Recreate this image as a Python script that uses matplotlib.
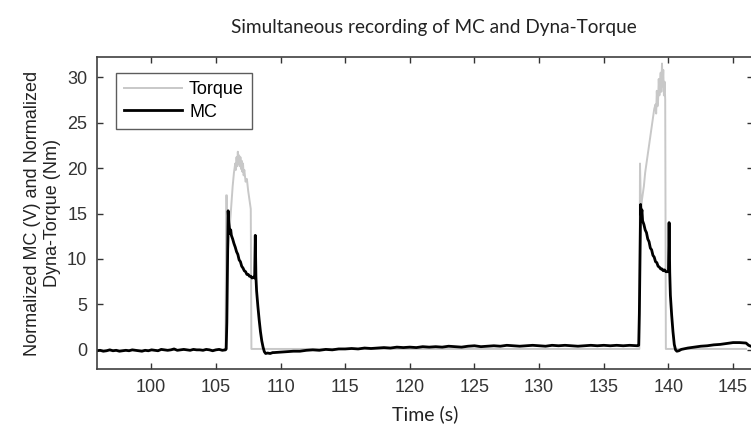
import numpy as np
import matplotlib
matplotlib.use("Agg")
import matplotlib.pyplot as plt

# MC signal (V, normalized), in pieces
mc_pre_t = np.linspace(95.8, 105.75, 41)
mc_pre_v = [-0.1, -0.05, -0.15, -0.1, 0.0, -0.1, -0.05, -0.15, -0.1, -0.05,
            -0.1, 0.0, -0.05, -0.1, -0.15, -0.05, -0.1, 0.0, -0.05, -0.1,
            0.05, 0.0, -0.05, 0.0, 0.1, -0.05, 0.0, 0.05, 0.0, -0.05,
            0.05, 0.0, 0.0, -0.05, 0.05, 0.0, -0.1, 0.0, 0.05, -0.05, 0.0]

mc_p1_t = [105.80, 105.85, 105.90, 105.95, 106.00, 106.05, 106.10, 106.15, 106.2, 106.3,
           106.4, 106.5, 106.6, 106.7, 106.8, 106.9, 107.0, 107.1, 107.2, 107.3,
           107.4, 107.5, 107.6, 107.7, 107.8, 107.9, 108.0, 108.05, 108.1, 108.15,
           108.25, 108.35, 108.45, 108.55, 108.65, 108.75, 108.85, 109.0, 109.2, 109.4]
mc_p1_v = [0.1, 3.0, 9.5, 15.3, 14.0, 13.4, 12.8, 13.2, 12.6, 12.2,
           11.7, 11.3, 10.8, 10.5, 9.9, 9.7, 9.2, 9.0, 8.7, 8.6,
           8.3, 8.3, 8.1, 8.1, 7.9, 8.0, 7.9, 12.6, 8.0, 6.5,
           4.8, 3.3, 2.0, 1.0, 0.3, -0.2, -0.4, -0.35, -0.4, -0.3]

mc_mid_t = np.linspace(109.5, 137.5, 57)
mc_mid_v = [-0.3, -0.25, -0.2, -0.15, -0.15, -0.05, 0.0, -0.05, 0.05, 0.0,
            0.1, 0.1, 0.15, 0.1, 0.2, 0.15, 0.2, 0.25, 0.2, 0.3,
            0.25, 0.3, 0.25, 0.35, 0.3, 0.35, 0.3, 0.4, 0.35, 0.3,
            0.4, 0.45, 0.35, 0.4, 0.45, 0.4, 0.5, 0.45, 0.4, 0.45,
            0.5, 0.45, 0.4, 0.5, 0.45, 0.5, 0.45, 0.4, 0.45, 0.5,
            0.45, 0.5, 0.45, 0.5, 0.45, 0.5, 0.45]

mc_p2_t = [137.6, 137.7, 137.75, 137.8, 137.85, 137.9, 137.95, 138.0, 138.1, 138.2,
           138.3, 138.4, 138.5, 138.6, 138.7, 138.8, 138.9, 139.0, 139.1, 139.2,
           139.3, 139.4, 139.5, 139.6, 139.7, 139.8, 139.9, 140.0, 140.05, 140.1,
           140.15, 140.25, 140.35, 140.45, 140.55, 140.65, 140.8]
mc_p2_v = [0.45, 0.5, 4.0, 10.0, 16.0, 14.8, 15.4, 14.2, 13.8, 13.2,
           12.9, 12.2, 11.9, 11.2, 11.0, 10.4, 10.2, 9.7, 9.6, 9.2,
           9.1, 8.9, 8.9, 8.7, 8.8, 8.6, 8.6, 8.6, 14.0, 8.5,
           6.0, 3.8, 2.0, 0.6, 0.0, -0.15, -0.1]

mc_post_t = [141.0, 141.5, 142.0, 142.5, 143.0, 143.5, 144.0, 144.5, 145.0, 145.5, 146.0, 146.2, 146.45]
mc_post_v = [0.05, 0.2, 0.3, 0.4, 0.45, 0.55, 0.6, 0.7, 0.8, 0.8, 0.75, 0.5, 0.35]

# Dyna-Torque (Nm, normalized)
tq_t = [95.8, 105.75, 105.8, 105.85, 105.9, 106.0, 106.1, 106.2, 106.3, 106.4,
        106.5, 106.55, 106.6, 106.65, 106.7, 106.75, 106.8, 106.85, 106.9, 106.95,
        107.0, 107.05, 107.1, 107.15, 107.2, 107.3, 107.4, 107.5, 107.6, 107.7,
        107.75, 137.75, 137.8, 137.85, 137.9, 138.0, 138.1, 138.2, 138.3, 138.4,
        138.5, 138.6, 138.7, 138.8, 138.9, 139.0, 139.05, 139.1, 139.15, 139.2,
        139.25, 139.3, 139.35, 139.4, 139.45, 139.5, 139.55, 139.6, 139.65, 139.7,
        139.75, 139.8, 146.0]
tq_v = [-0.05, 0.0, 17.0, 17.0, 10.5, 12.0, 14.0, 16.0, 18.0, 19.5,
        20.5, 19.8, 21.2, 20.2, 21.8, 20.5, 21.4, 20.2, 21.2, 19.9,
        20.8, 19.6, 20.5, 19.2, 19.8, 18.5, 18.8, 17.5, 16.5, 15.5,
        0.1, 0.1, 20.5, 17.0, 16.0, 17.0, 18.0, 19.5, 20.5, 21.5,
        22.5, 23.5, 24.5, 25.5, 26.5, 27.0, 26.0, 28.5, 26.8, 27.5,
        29.8, 28.0, 29.5, 30.5, 28.4, 31.5, 29.0, 30.8, 28.0, 29.5,
        27.5, 0.1, 0.1]

x_ticks = [100, 105, 110, 115, 120, 125, 130, 135, 140, 145]
y_ticks = [0, 5, 10, 15, 20, 25, 30]

mc_t = np.concatenate([mc_pre_t, mc_p1_t, mc_mid_t, mc_p2_t, mc_post_t])
mc_v = np.concatenate([mc_pre_v, mc_p1_v, mc_mid_v, mc_p2_v, mc_post_v])

plt.rcParams['font.family'] = ['Liberation Sans', 'DejaVu Sans']

fig = plt.figure(figsize=(7.51, 4.30), dpi=100)
ax = fig.add_axes([0.129, 0.142, 0.873, 0.725])

ax.plot(tq_t, tq_v, color='#c8c8c8', lw=1.4, label='Torque')
ax.plot(mc_t, mc_v, color='black', lw=2.0, label='MC')

ax.set_xlim(95.8, 146.5)
ax.set_ylim(-2.1, 32.2)
ax.set_xticks(x_ticks)
ax.set_yticks(y_ticks)
ax.tick_params(direction='in', top=True, right=True, length=4, width=1,
               labelsize=13, colors='#333333', pad=7)
for s in ax.spines.values():
    s.set_color('#404040')
    s.set_linewidth(1.2)

leg = ax.legend(loc='upper left', bbox_to_anchor=(0.029, 0.949), borderaxespad=0,
                fancybox=False, edgecolor='#333333', fontsize=13,
                handlelength=3.2, borderpad=0.45, labelspacing=0.3, handletextpad=0.4)
leg.get_frame().set_linewidth(1.0)

ax.set_ylabel('Normalized MC (V) and Normalized\nDyna-Torque (Nm)', fontsize=13,
              color='#222222', labelpad=4, linespacing=1.3)
ax.set_xlabel('Time (s)', fontsize=14, family=['Lato', 'DejaVu Sans'],
              color='#222222', labelpad=7)
fig.text(0.578, 0.935, 'Simultaneous recording of MC and Dyna-Torque', ha='center',
         va='center', fontsize=13.7, family=['Lato', 'DejaVu Sans'], color='#222222')

fig.savefig('out.png', dpi=100)
